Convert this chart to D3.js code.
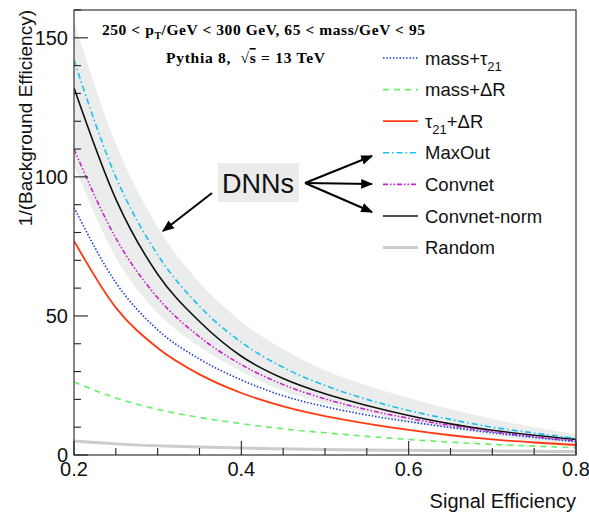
<!DOCTYPE html>
<html>
<head>
<meta charset="utf-8">
<title>Background rejection vs signal efficiency</title>
<style>
  body { margin: 0; background: #fff; }
</style>
</head>
<body>
<script src="https://cdn.jsdelivr.net/npm/d3@7/dist/d3.min.js"></script>
<script>
// signal efficiency points shared by every curve
var effs = [0.2, 0.25, 0.3, 0.35, 0.4, 0.45, 0.5, 0.55, 0.6, 0.65, 0.7, 0.75, 0.8];

// 1/(background efficiency)
var massTau   = [89, 62, 45, 34.5, 27, 21.3, 17.4, 14.4, 12, 9.9, 8, 6.3, 4.8];
var massDR    = [26.3, 20.5, 16.4, 13.5, 11.3, 9.4, 8, 6.7, 5.6, 4.6, 3.8, 3.2, 2.6];
var tauDR     = [77, 53, 38.5, 29, 22.3, 17.5, 14, 11.3, 9, 7.1, 5.6, 4.5, 3.6];
var maxOut    = [142, 100, 72, 53.5, 40.5, 31.5, 25, 20, 16, 12.8, 10, 7.9, 6];
var convnet   = [110, 78, 56.5, 42.5, 32.5, 25.3, 20.2, 16.3, 13.2, 10.6, 8.4, 6.6, 5.1];
var convNorm  = [132, 92, 65, 48, 35.5, 27.5, 22, 17.8, 14.2, 11.2, 8.9, 7.1, 5.6];
var randomTag = [5, 4, 3.33, 2.86, 2.5, 2.22, 2, 1.82, 1.67, 1.54, 1.43, 1.33, 1.25];

// grey uncertainty band around the DNN curves
var bandHi = [156, 112, 82, 62, 48, 38, 30.5, 25, 20.5, 16.5, 13, 10, 7.5];
var bandLo = [104, 71, 51, 39, 30, 23, 18.5, 15, 12, 9.5, 7, 5, 3];

var xTicks = [0.2, 0.4, 0.6, 0.8];
var yTicks = [0, 50, 100, 150];

var series = [
  {name: "mass+τ", sub: "21", vals: massTau, color: "#1a3fd0", w: 1.6, dash: "1.5,1.8"},
  {name: "mass+ΔR", sub: "", vals: massDR, color: "#66f066", w: 1.6, dash: "6,5"},
  {name: "τ", sub: "21", tail: "+ΔR", vals: tauDR, color: "#ff3a10", w: 1.8, dash: null},
  {name: "MaxOut", sub: "", vals: maxOut, color: "#18c0ee", w: 1.6, dash: "6,3,1.5,3"},
  {name: "Convnet", sub: "", vals: convnet, color: "#cc22cc", w: 1.6, dash: "5,2,1.5,2,1.5,2"},
  {name: "Convnet-norm", sub: "", vals: convNorm, color: "#111", w: 1.6, dash: null},
  {name: "Random", sub: "", vals: randomTag, color: "#cccccc", w: 3, dash: null}
];

var SANS = "'Liberation Sans', Arial, Helvetica, sans-serif";
var SERIF = "'Liberation Serif', 'Times New Roman', serif";

var W = 589, H = 515;
var L = 74, R = 576, T = 10, B = 455;

var svg = d3.select("body").append("svg").attr("width", W).attr("height", H)
  .style("font-family", SANS);

var x = d3.scaleLinear().domain([0.2, 0.8]).range([L, R]);
var y = d3.scaleLinear().domain([0, 160]).range([B, T]);

svg.append("defs").append("clipPath").attr("id", "plot")
  .append("rect").attr("x", L).attr("y", T).attr("width", R - L).attr("height", B - T);

svg.append("defs").append("marker")
  .attr("id", "head").attr("viewBox", "0 0 10 10").attr("refX", 9).attr("refY", 5)
  .attr("markerWidth", 6).attr("markerHeight", 6).attr("orient", "auto")
  .append("path").attr("d", "M0,1 L10,5 L0,9 Z").attr("fill", "#000");

var g = svg.append("g").attr("clip-path", "url(#plot)");

// band
var area = d3.area()
  .x(function(d, i) { return x(effs[i]); })
  .y0(function(d, i) { return y(bandLo[i]); })
  .y1(function(d) { return y(d); })
  .curve(d3.curveMonotoneX);
g.append("path").datum(bandHi).attr("d", area).attr("fill", "#ebecec");

var line = d3.line()
  .x(function(d, i) { return x(effs[i]); })
  .y(function(d) { return y(d); })
  .curve(d3.curveMonotoneX);

// draw random first so it sits underneath
series.slice().reverse().forEach(function(s) {
  g.append("path").datum(s.vals).attr("d", line)
    .attr("fill", "none").attr("stroke", s.color).attr("stroke-width", s.w)
    .attr("stroke-dasharray", s.dash);
});

// frame
svg.append("rect").attr("x", L).attr("y", T).attr("width", R - L).attr("height", B - T)
  .attr("fill", "none").attr("stroke", "#444").attr("stroke-width", 1.3);

// ticks (ROOT style, inside)
var ax = svg.append("g").attr("stroke", "#222").attr("stroke-width", 1.1);
d3.range(0, 161, 10).forEach(function(v) {
  var len = v % 50 === 0 ? 14 : 7;
  ax.append("line").attr("x1", L).attr("x2", L + len).attr("y1", y(v)).attr("y2", y(v));
});
d3.range(0, 13).forEach(function(k) {
  var v = 0.2 + k * 0.05;
  var len = k % 4 === 0 ? 14 : 7;
  ax.append("line").attr("x1", x(v)).attr("x2", x(v)).attr("y1", B).attr("y2", B - len);
});

svg.selectAll(".ylab").data(yTicks).enter().append("text")
  .attr("x", L - 6).attr("y", function(d) { return y(d) + 7; })
  .attr("text-anchor", "end").attr("font-size", 20).attr("fill", "#111")
  .text(function(d) { return d; });

svg.selectAll(".xlab").data(xTicks).enter().append("text")
  .attr("x", function(d) { return x(d); }).attr("y", B + 21)
  .attr("text-anchor", "middle").attr("font-size", 20).attr("fill", "#111")
  .text(function(d) { return d.toFixed(1); });

svg.append("text").attr("transform", "translate(32," + T + ") rotate(-90)")
  .attr("text-anchor", "end").attr("font-size", 19).attr("fill", "#111")
  .text("1/(Background Efficiency)");

svg.append("text").attr("x", R).attr("y", 508).attr("text-anchor", "end")
  .attr("font-size", 20).attr("fill", "#111").text("Signal Efficiency");

// header text (stretched to the width it has in the picture)
var h1 = svg.append("text").attr("x", 102).attr("y", 35).attr("fill", "#000")
  .attr("textLength", 323).attr("lengthAdjust", "spacing")
  .style("font-family", SERIF).style("font-weight", "bold").style("font-size", "15.5px");
h1.append("tspan").text("250 < p");
h1.append("tspan").attr("dy", 4).style("font-size", "10px").text("T");
h1.append("tspan").attr("dy", -4).text("/GeV < 300 GeV, 65 < mass/GeV < 95");

var h2 = svg.append("text").attr("x", 166).attr("y", 63).attr("fill", "#000")
  .attr("textLength", 159).attr("lengthAdjust", "spacing")
  .style("font-family", SERIF).style("font-weight", "bold").style("font-size", "15.5px")
  .style("white-space", "pre");
h2.append("tspan").text("Pythia 8,  √");
h2.append("tspan").attr("text-decoration", "overline").text("s");
h2.append("tspan").text(" = 13 TeV");

// legend
var leg = svg.append("g");
series.forEach(function(s, i) {
  var ly = 58 + i * 31.6;
  leg.append("line").attr("x1", 383).attr("x2", 418).attr("y1", ly).attr("y2", ly)
    .attr("stroke", s.color).attr("stroke-width", s.w).attr("stroke-dasharray", s.dash);
  var t = leg.append("text").attr("x", 425).attr("y", ly + 6.5).attr("font-size", 18.5).attr("fill", "#111");
  t.append("tspan").text(s.name);
  if (s.sub) {
    t.append("tspan").attr("dy", 6).attr("font-size", 13).text(s.sub);
    if (s.tail) t.append("tspan").attr("dy", -6).attr("font-size", 18.5).text(s.tail);
  }
});

// DNNs annotation
svg.append("rect").attr("x", 218).attr("y", 163).attr("width", 81).attr("height", 39).attr("fill", "#ebebeb");
svg.append("text").attr("x", 258).attr("y", 193).attr("text-anchor", "middle")
  .attr("font-size", 27).attr("fill", "#111").text("DNNs");

var arrows = [
  [212, 193, 163, 231],
  [305, 183, 372, 156],
  [305, 183, 372, 184],
  [305, 183, 372, 212]
];
arrows.forEach(function(a) {
  svg.append("line").attr("x1", a[0]).attr("y1", a[1]).attr("x2", a[2]).attr("y2", a[3])
    .attr("stroke", "#000").attr("stroke-width", 2).attr("marker-end", "url(#head)");
});
</script>
</body>
</html>
